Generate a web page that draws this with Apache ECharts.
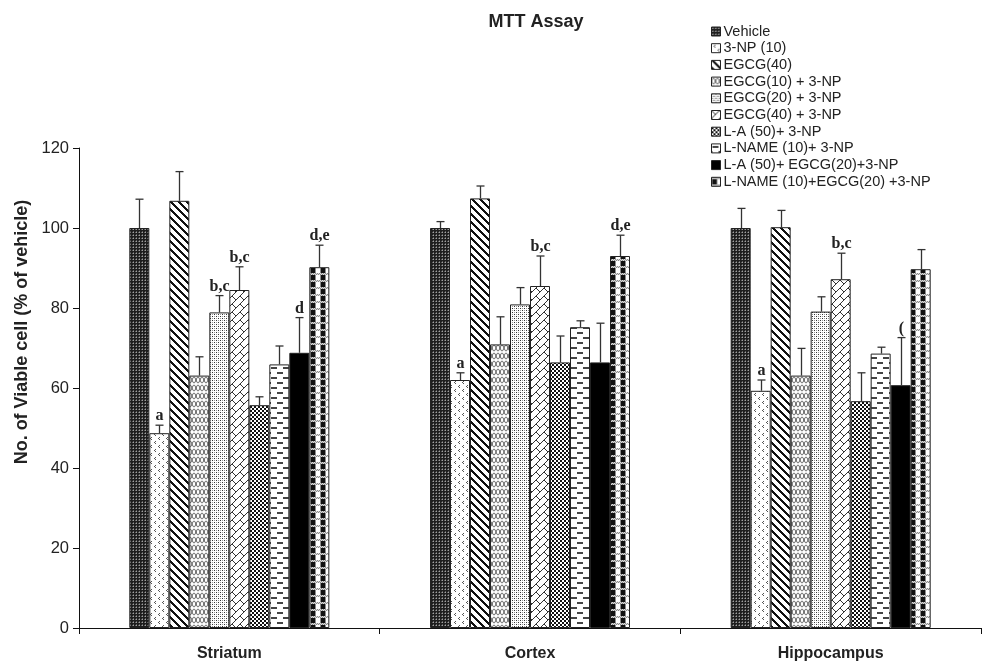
<!DOCTYPE html>
<html>
<head>
<meta charset="utf-8">
<script src="https://cdn.jsdelivr.net/npm/echarts@6/dist/echarts.min.js"></script>
<style>
  html, body { margin: 0; padding: 0; background: #fff; }
  #chart { width: 987px; height: 663px; }
</style>
</head>
<body>
<div id="chart"></div>
<script>
// Brain regions on the x axis
const categories = ['Striatum', 'Cortex', 'Hippocampus'];

// Treatment groups (legend order = bar order inside each region)
const treatments = [
  'Vehicle',
  '3-NP (10)',
  'EGCG(40)',
  'EGCG(10) + 3-NP',
  'EGCG(20) + 3-NP',
  'EGCG(40) + 3-NP',
  'L-A (50)+ 3-NP',
  'L-NAME (10)+ 3-NP',
  'L-A (50)+ EGCG(20)+3-NP',
  'L-NAME (10)+EGCG(20) +3-NP'
];

// Mean viable cells (% of vehicle), one value per region
const vehicle      = [100.0, 100.0, 100.0];
const np3          = [48.7, 62.0, 59.3];
const egcg40       = [106.8, 107.4, 100.2];
const egcg10Np     = [63.1, 70.9, 63.1];
const egcg20Np     = [78.9, 80.9, 79.1];
const egcg40Np     = [84.5, 85.5, 87.2];
const laNp         = [55.7, 66.4, 56.7];
const lnameNp      = [65.9, 75.2, 68.6];
const laEgcg20Np   = [68.8, 66.4, 60.7];
const lnameEgcg20Np = [90.2, 93.0, 89.7];

// Standard error of the mean
const vehicleErr      = [7.2, 1.6, 4.9];
const np3Err          = [2.0, 1.8, 2.7];
const egcg40Err       = [7.3, 3.1, 4.2];
const egcg10NpErr     = [4.7, 6.9, 6.8];
const egcg20NpErr     = [4.2, 4.2, 3.7];
const egcg40NpErr     = [5.8, 7.5, 6.5];
const laNpErr         = [2.1, 6.6, 7.1];
const lnameNpErr      = [4.6, 1.6, 1.6];
const laEgcg20NpErr   = [8.8, 9.8, 11.9];
const lnameEgcg20NpErr = [5.5, 5.2, 4.9];

// Significance letters above the error bars
const vehicleSig      = ['', '', ''];
const np3Sig          = ['a', 'a', 'a'];
const egcg40Sig       = ['', '', ''];
const egcg10NpSig     = ['', '', ''];
const egcg20NpSig     = ['b,c', '', ''];
const egcg40NpSig     = ['b,c', 'b,c', 'b,c'];
const laNpSig         = ['', '', ''];
const lnameNpSig      = ['', '', ''];
const laEgcg20NpSig   = ['d', '', '('];
const lnameEgcg20NpSig = ['d,e', 'd,e', ''];

// Y axis ticks
const yMin = 0, yMax = 120, yStep = 20;

const means = [vehicle, np3, egcg40, egcg10Np, egcg20Np, egcg40Np, laNp, lnameNp, laEgcg20Np, lnameEgcg20Np];
const errs = [vehicleErr, np3Err, egcg40Err, egcg10NpErr, egcg20NpErr, egcg40NpErr, laNpErr, lnameNpErr, laEgcg20NpErr, lnameEgcg20NpErr];
const sigs = [vehicleSig, np3Sig, egcg40Sig, egcg10NpSig, egcg20NpSig, egcg40NpSig, laNpSig, lnameNpSig, laEgcg20NpSig, lnameEgcg20NpSig];

// ---- monochrome fill patterns ----
function tile(w, h, draw) {
  const c = document.createElement('canvas');
  c.width = w; c.height = h;
  const g = c.getContext('2d');
  g.fillStyle = '#fff';
  g.fillRect(0, 0, w, h);
  draw(g, w, h);
  return { image: c, repeat: 'repeat' };
}
function px(g, color, rects) {
  g.fillStyle = color;
  rects.forEach(r => g.fillRect(r[0], r[1], r[2] || 1, r[3] || 1));
}

const fills = [
  // dense dark mesh
  tile(3, 3, g => {
    px(g, '#1e1e1e', [[0, 0, 3, 3]]);
    px(g, '#a0a0a0', [[1, 1]]);
    px(g, '#5c5c5c', [[1, 0], [0, 1]]);
  }),
  // sparse chevrons
  tile(8, 8, g => {
    px(g, '#555', [[3, 1], [2, 2], [3, 3], [7, 5], [6, 6], [7, 7]]);
  }),
  // bold diagonal stripes
  tile(8, 8, g => {
    g.fillStyle = '#111';
    for (let y = 0; y < 8; y++) for (let x = 0; x < 8; x++) {
      if (((x - y + 16) % 8) < 3) g.fillRect(x, y, 1, 1);
    }
  }),
  // interlocking scallops: two opposite-phase waves
  tile(8, 8, g => {
    g.strokeStyle = '#555'; g.lineWidth = 1;
    [1, -1].forEach(s => {
      g.beginPath();
      for (let x = 0; x <= 8; x += 0.5) {
        const y = 4 + s * 3 * Math.sin(2 * Math.PI * x / 8);
        if (x === 0) g.moveTo(x, y); else g.lineTo(x, y);
      }
      g.stroke();
    });
  }),
  // fine dots
  tile(4, 4, g => {
    px(g, '#333', [[0, 0], [2, 2]]);
    px(g, '#999', [[2, 0], [0, 2]]);
  }),
  // herringbone
  tile(8, 8, g => {
    g.strokeStyle = '#333'; g.lineWidth = 1;
    g.beginPath(); g.moveTo(0, 8); g.lineTo(8, 0); g.stroke();
    g.beginPath(); g.moveTo(0, 0); g.lineTo(4, 4); g.stroke();
  }),
  // small checkerboard
  tile(4, 4, g => {
    px(g, '#111', [[0, 0, 2, 2], [2, 2, 2, 2]]);
  }),
  // staggered short dashes
  tile(12, 10, g => {
    px(g, '#444', [[1, 2, 6, 2], [7, 7, 5, 2], [0, 7, 1, 2]]);
  }),
  // solid black
  '#000',
  // plaid: grey checked grid with black and white squares
  tile(10, 7, g => {
    px(g, '#8c8c8c', [[0, 0, 10, 7]]);
    px(g, '#dcdcdc', [[0, 0], [2, 0], [4, 0], [6, 0], [8, 0], [1, 1], [3, 1], [5, 1], [7, 1], [9, 1]]);
    px(g, '#111', [[1, 2, 4, 5]]);
    px(g, '#fff', [[6, 2, 4, 5]]);
  })
];

const BAR_W = 20;
const N = treatments.length;

const barSeries = treatments.map((name, k) => ({
  name: name,
  type: 'bar',
  data: means[k],
  barWidth: BAR_W,
  barGap: '0%',
  itemStyle: { color: fills[k], borderColor: '#222', borderWidth: 1 },
  z: 2
}));

const errSeries = treatments.map((name, k) => ({
  name: 'sem-' + k,
  type: 'custom',
  z: 5,
  data: categories.map((c, i) => [i, means[k][i], errs[k][i]]),
  renderItem: function (params, api) {
    const ci = api.value(0), m = api.value(1), e = api.value(2);
    const base = api.coord([ci, m]);
    const x = Math.round(base[0] + (k - (N - 1) / 2) * BAR_W) + 0.5;
    const yTop = api.coord([ci, m + e])[1];
    const label = sigs[k][params.dataIndex];
    const children = [
      { type: 'line', shape: { x1: x, y1: base[1], x2: x, y2: yTop }, style: { stroke: '#333', lineWidth: 1.3 } },
      { type: 'line', shape: { x1: x - 4, y1: yTop, x2: x + 4, y2: yTop }, style: { stroke: '#333', lineWidth: 1.3 } }
    ];
    if (label) {
      children.push({
        type: 'text',
        style: {
          text: label, x: x, y: yTop - 1,
          align: 'center', verticalAlign: 'bottom',
          font: 'bold 16px "Liberation Serif", serif',
          fill: '#222'
        }
      });
    }
    return { type: 'group', children: children };
  }
}));

const chart = echarts.init(document.getElementById('chart'), null, { renderer: 'canvas' });
chart.setOption({
  animation: false,
  backgroundColor: '#fff',
  title: {
    text: 'MTT Assay',
    left: 531, top: 8,
    textAlign: 'center',
    textStyle: { fontFamily: '"Liberation Sans", Arial, sans-serif', fontWeight: 'bold', fontSize: 18, color: '#222' }
  },
  legend: {
    data: treatments,
    orient: 'vertical',
    left: 711, top: 24,
    padding: 0,
    icon: 'rect',
    itemWidth: 9, itemHeight: 9,
    itemGap: 1.7,
    textStyle: { fontFamily: '"Liberation Sans", Arial, sans-serif', fontSize: 14.5, lineHeight: 15, color: '#222', padding: [0, 0, 0, -2] },
    itemStyle: { borderColor: '#222', borderWidth: 1 }
  },
  grid: { left: 79, right: 6, top: 148, bottom: 35 },
  xAxis: {
    type: 'category',
    data: categories,
    axisLine: { show: true, lineStyle: { color: '#111', width: 1 } },
    axisTick: { show: true, length: 6, lineStyle: { color: '#111' } },
    axisLabel: { margin: 18, fontFamily: '"Liberation Sans", Arial, sans-serif', fontWeight: 'bold', fontSize: 16, color: '#222' },
    splitLine: { show: false }
  },
  yAxis: {
    type: 'value',
    min: yMin, max: yMax, interval: yStep,
    name: 'No. of Viable cell (% of vehicle)',
    nameLocation: 'middle',
    nameGap: 32,
    nameTextStyle: { fontFamily: '"Liberation Sans", Arial, sans-serif', fontWeight: 'bold', fontSize: 18, color: '#222', padding: [0, 0, 0, 112] },
    axisLine: { show: true, lineStyle: { color: '#111', width: 1 } },
    axisTick: { show: true, length: 6, inside: false, lineStyle: { color: '#111' } },
    axisLabel: { margin: 10, fontFamily: '"Liberation Sans", Arial, sans-serif', fontSize: 16.5, color: '#222' },
    splitLine: { show: false }
  },
  series: barSeries.concat(errSeries)
});
</script>
</body>
</html>
